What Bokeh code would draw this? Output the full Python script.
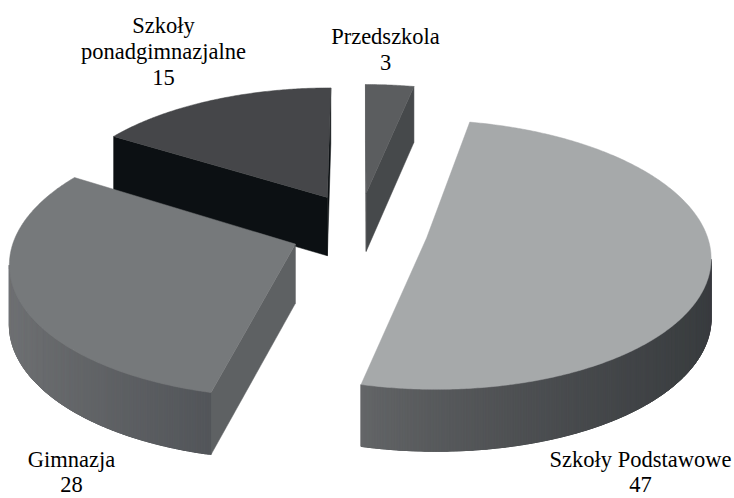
import math
import numpy as np
from bokeh.plotting import figure
from bokeh.models import ColumnDataSource, Range1d
from bokeh.embed import file_html
from bokeh.resources import INLINE
from bokeh.core.properties import value

# ---------------- data ----------------
categories = ["Przedszkola", "Szkoły Podstawowe", "Gimnazja", "Szkoły ponadgimnazjalne"]
values = [3, 47, 28, 15]
label_names = [["Przedszkola"], ["Szkoły Podstawowe"], ["Gimnazja"], ["Szkoły", "ponadgimnazjalne"]]

# ---------------- styles ----------------
top_colors = ["#5b5d5f", "#a6a9aa", "#76797b", "#454649"]
side_light = ["#56595b", "#646668", "#707274", "#3a3b3d"]
side_dark = ["#3e4143", "#3a3d40", "#53565a", "#2a2b2d"]
radial_start_colors = ["#505254", "#505254", "#5e6163", "#0c1013"]
radial_end_colors = ["#46494b", "#505254", "#5e6163", "#0c1013"]
FONT = "'Liberation Serif', 'Times New Roman', serif"

# ---------------- layout (projection of the 3D pie) ----------------
START_DEG = 0.0
X0, A = 359.0, 278.8
Y0, B = 229.0, 130.5
K, KH = 0.124, 0.045
H = 59.0
EU, EV = 0.245, 0.29

label_x = [385, 640, 71, 163]
label_y0 = [36, 459, 459, 25]
label_gap = [26, 25, 25, 26]


def proj(u, v, z):
    g = 1.0 / (1.0 + K * v)
    gh = 1.0 / (1.0 + KH * v)
    return X0 + A * u * g, Y0 - B * v * g + z * H * gh


def area(xs, ys):
    s = 0.0
    n = len(xs)
    for i in range(n):
        j = (i + 1) % n
        s += xs[i] * ys[j] - xs[j] * ys[i]
    return s


def hex2rgb(h):
    h = h.lstrip("#")
    return [int(h[i:i + 2], 16) for i in (0, 2, 4)]


def lerp_col(c1, c2, t):
    a, b = hex2rgb(c1), hex2rgb(c2)
    return "#%02x%02x%02x" % tuple(int(round(a[i] + (b[i] - a[i]) * t)) for i in range(3))


total = float(sum(values))
bounds = []
acc = START_DEG
for val in values:
    a0 = acc
    a1 = acc + 360.0 * val / total
    bounds.append((a0, a1))
    acc = a1

slices = []
for i, (a0, a1) in enumerate(bounds):
    bis = math.radians((a0 + a1) / 2)
    ou, ov = EU * math.sin(bis), EV * math.cos(bis)
    n = max(3, int(math.ceil(a1 - a0)) * 2 + 1)
    th = np.radians(np.linspace(a0, a1, n))
    us = ou + np.sin(th)
    vs = ov + np.cos(th)
    slices.append(dict(i=i, ou=ou, ov=ov, us=us, vs=vs))

# back slices first
order = sorted(range(len(slices)), key=lambda k: -slices[k]["ov"])

xs_all, ys_all, cols = [], [], []


def add(fx, fy, c):
    xs_all.append([float(v) for v in fx])
    ys_all.append([float(v) for v in fy])
    cols.append(c)


for idx in order:
    s = slices[idx]
    ou, ov, us, vs = s["ou"], s["ov"], s["us"], s["vs"]
    ctx, cty = proj(ou, ov, 0)
    cbx, cby = proj(ou, ov, 1)
    tx, ty = proj(us, vs, 0)
    bx, by = proj(us, vs, 1)

    # radial start face
    fx = [tx[0], ctx, cbx, bx[0]]
    fy = [ty[0], cty, cby, by[0]]
    if area(fx, fy) > 0:
        add(fx, fy, radial_start_colors[idx])
    # radial end face
    fx = [ctx, tx[-1], bx[-1], cbx]
    fy = [cty, ty[-1], by[-1], cby]
    if area(fx, fy) > 0:
        add(fx, fy, radial_end_colors[idx])

    # outer curved side
    vis = []
    for j in range(len(us) - 1):
        fx = [tx[j + 1], tx[j], bx[j], bx[j + 1]]
        fy = [ty[j + 1], ty[j], by[j], by[j + 1]]
        if area(fx, fy) > 0:
            vis.append(j)
    if vis:
        j_lo, j_hi = min(vis), max(vis) + 1
        rng = list(range(j_lo, j_hi + 1))
        mid_all = [(tx[j] + tx[j + 1]) / 2 for j in vis]
        lo, hi = min(mid_all), max(mid_all)
        fx = [tx[j] for j in rng] + [bx[j] for j in reversed(rng)]
        fy = [ty[j] for j in rng] + [by[j] for j in reversed(rng)]
        add(fx, fy, lerp_col(side_light[idx], side_dark[idx], 0.5))
        for j in vis:
            seg = list(range(j, min(j + 3, j_hi) + 1))
            fx = [tx[q] for q in seg] + [bx[q] for q in reversed(seg)]
            fy = [ty[q] for q in seg] + [by[q] for q in reversed(seg)]
            m = (tx[j] + tx[j + 1]) / 2
            t = 0.0 if hi == lo else (m - lo) / (hi - lo)
            add(fx, fy, lerp_col(side_light[idx], side_dark[idx], t ** 0.8))

    # top face
    add([ctx] + list(tx), [cty] + list(ty), top_colors[idx])

src = ColumnDataSource(dict(xs=xs_all, ys=ys_all, color=cols))

p = figure(width=734, height=498, x_range=Range1d(0, 734), y_range=Range1d(498, 0),
           output_backend="svg", toolbar_location=None,
           x_axis_location=None, y_axis_location=None, min_border=0)
p.grid.visible = False
p.outline_line_color = None
p.background_fill_color = "white"
p.border_fill_color = "white"

p.patches("xs", "ys", source=src, fill_color="color", line_color="color", line_width=0.5)

# labels
tx_, ty_, tt_ = [], [], []
for i in range(len(categories)):
    lines = label_names[i] + [str(values[i])]
    for j, line in enumerate(lines):
        tx_.append(label_x[i])
        ty_.append(label_y0[i] + j * label_gap[i])
        tt_.append(line)
lsrc = ColumnDataSource(dict(x=tx_, y=ty_, t=tt_))
p.text("x", "y", text="t", source=lsrc, text_align="center", text_baseline="alphabetic",
       text_font=value(FONT), text_font_size="22.5px", text_color="#000000")

open("out.html", "w").write(file_html(p, INLINE))
